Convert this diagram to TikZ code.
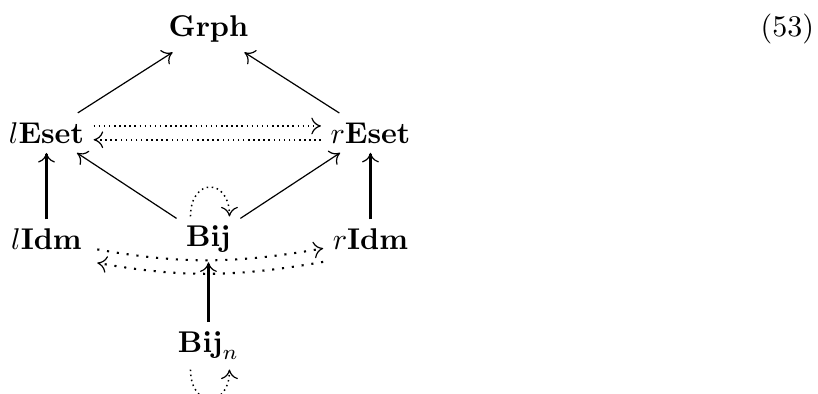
\documentclass[tikz,border=0pt]{standalone}
\usetikzlibrary{arrows.meta}
\tikzset{
  >={Computer Modern Rightarrow[length=3.2pt,width=5.6pt,line width=0.4pt]},
  thin dots/.style={dash pattern=on 0.5pt off 1.2pt, line width=0.5pt},
  wide dots/.style={dash pattern=on 0.7pt off 2.6pt, line width=0.7pt},
  heavy/.style={line width=0.9pt}
}
\begin{document}
\begin{tikzpicture}[every node/.style={inner sep=3pt}]
\useasboundingbox (-69.5pt,-51.5pt) rectangle (203.2pt,79.8pt);
\node (bij) at (0,0) {$\mathbf{Bij}$};
\node (lidm) [left of=bij, node distance=54pt] {$l\mathbf{Idm}$};
\node (ridm) [right of=bij, node distance=54pt] {$r\mathbf{Idm}$};
\node (leset) [above of=lidm, node distance=35.5pt] {$l\mathbf{Eset}$};
\node (reset) [above of=ridm, node distance=35.5pt] {$r\mathbf{Eset}$};
\node (grph) [above of=bij, node distance=70pt] {$\mathbf{Grph}$};
\node (bijn) [below of=bij, node distance=35.5pt] {$\mathbf{Bij}_n$};
\node (eqno) [right of=grph, node distance=193pt] {(53)};
\draw [->] (leset) -- (grph);
\draw [->] (reset) -- (grph);
\draw [->] (bij) -- (leset);
\draw [->] (bij) -- (reset);
\draw [->, heavy] (lidm) -- (leset);
\draw [->, heavy] (ridm) -- (reset);
\draw [->, heavy] (bijn) -- (bij);
\draw [->, thin dots] ([yshift=2.3pt]leset.east) -- ([yshift=2.3pt]reset.west);
\draw [->, thin dots] ([yshift=-2.3pt]reset.west) -- ([yshift=-2.3pt]leset.east);
\draw [->, wide dots, shorten <=2pt] ([yshift=-3pt]lidm.east) to[bend right=10] ([yshift=-3pt]ridm.west);
\draw [->, wide dots, shorten >=2pt] ([yshift=-7.5pt]ridm.west) to[bend left=10] ([yshift=-7.5pt]lidm.east);
\draw [->, thin dots] ([xshift=-6pt]bij.north) .. controls +(0,13pt) and +(0,13pt) .. ([xshift=7pt]bij.north);
\draw [->, thin dots] ([xshift=-6pt]bijn.south) .. controls +(0,-13pt) and +(0,-13pt) .. ([xshift=7pt]bijn.south);
\end{tikzpicture}
\end{document}
